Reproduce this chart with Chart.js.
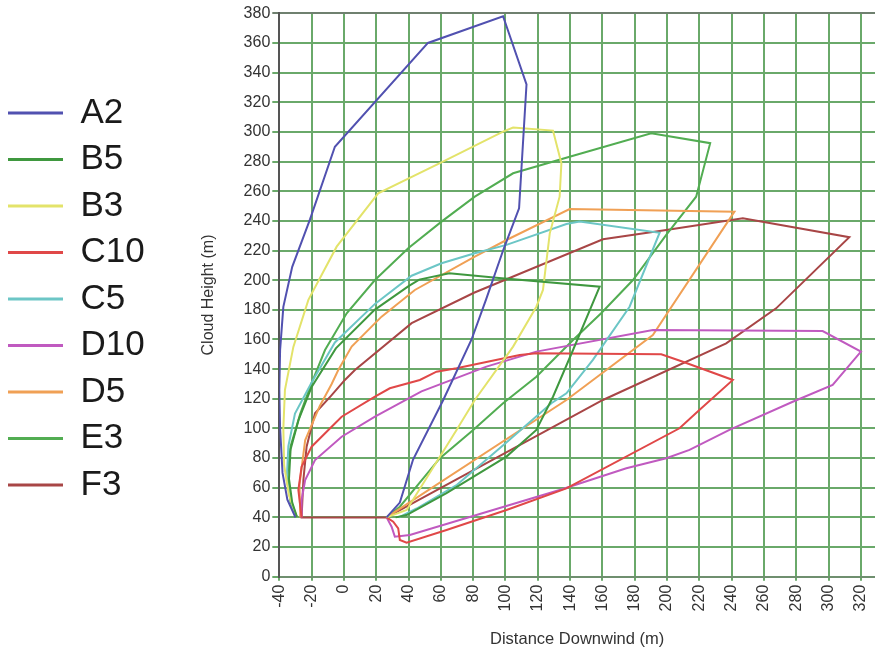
<!DOCTYPE html>
<html>
<head>
<meta charset="utf-8">
<script src="https://cdn.jsdelivr.net/npm/chart.js@4/dist/chart.umd.min.js"></script>
<style>
  html, body { margin: 0; padding: 0; background: #fff; }
  #wrap { width: 875px; height: 652px; }
</style>
</head>
<body>
<div id="wrap"><canvas id="cloud-chart" width="875" height="652"></canvas></div>
<script>
// cloud outline per stability class / wind speed (distance m, height m)
const seriesNames = ['A2', 'B5', 'B3', 'C10', 'C5', 'D10', 'D5', 'E3', 'F3'];
const seriesColors = ['#5151b0', '#3f983f', '#e3e36a', '#e04848', '#6cc6c6', '#c05ac0', '#f0a055', '#52ad52', '#a84646'];

const a2X = [-30, -35, -38, -39.5, -40, -39.5, -37.5, -32, -21, -5.6, 52, 98.5, 113, 108.4, 98.5, 88, 79, 61.4, 42.8, 34.6, 26.4];
const a2Y = [40, 52, 70, 100, 126, 153, 182, 209, 241, 290, 360, 378, 332, 248.5, 220, 187, 160, 119, 79, 50, 40];

const b5X = [-29, -32, -34, -33, -28, -20, -5, 19, 40, 46.6, 65.2, 96, 158.3, 141.8, 129.4, 119.1, 100.6, 63.5, 38.8, 32];
const b5Y = [40, 50, 66, 86, 106, 128, 154, 180, 196, 200.4, 204.7, 201.5, 195.6, 152.9, 121.4, 99, 81, 56.3, 41.6, 40];

const b3X = [-29, -34, -37, -37.5, -36.5, -31.3, -22, -4.5, 21.2, 59.4, 98.5, 104.7, 129.4, 134.6, 133.5, 127.4, 123.2, 119.1, 104.7, 81, 69.7, 38.8, 26.4];
const b3Y = [40, 55, 75, 100, 126, 155, 186.7, 222.6, 258.6, 278.9, 300.2, 302.9, 300.9, 278.9, 256.3, 231.6, 193.4, 182.1, 155.2, 119.2, 99, 45, 40];

const c10X = [-26.2, -28.2, -26.2, -20, -1.4, 19.2, 28.4, 47, 57.3, 69.7, 108.8, 119.1, 196.4, 209.8, 240.7, 220, 207.7, 137.7, 100.6, 63.5, 38.8, 34.6, 33.6, 30.5, 26.4];
const c10Y = [40, 58.5, 74.2, 87.7, 107.9, 121.4, 127.1, 132.7, 138.3, 140.6, 149.6, 150.7, 150, 145, 132.7, 112.5, 100.1, 59.6, 45, 31.5, 22.9, 24.8, 32.6, 37.1, 40];

const c5X = [-29, -31.3, -35.4, -34.4, -30.3, -20, -5.6, 19.2, 41.9, 60.4, 81, 100.6, 137.7, 145.9, 195.4, 176.8, 154.1, 137.7, 128.4, 100, 70, 45, 34];
const c5Y = [40, 45, 65, 88, 110, 131, 158, 184, 203, 211.4, 218.2, 223.8, 237.9, 239.5, 232, 182.1, 146.2, 123.7, 117, 90, 62, 46, 40];

const d10X = [-26.2, -26.2, -24, -17.9, -1.4, 19.2, 48, 88.2, 119.1, 191.2, 296.3, 320, 302.5, 277.8, 238.6, 213.9, 199.5, 174.8, 133.5, 40.8, 31.5, 29.5, 26.4];
const d10Y = [40, 51.7, 65.2, 78.7, 94.4, 107.9, 125, 141.7, 151.8, 166.4, 165.7, 151.8, 129.3, 118, 99, 85.5, 79.9, 73.1, 58.5, 28.1, 27, 33.7, 40];

const d5X = [-27, -27.5, -24, -15, -7.6, -3.5, 4.8, 23.3, 43.9, 81, 100.6, 139.7, 241.7, 191.2, 137.7, 26.4];
const d5Y = [40, 62, 92, 115, 130, 139.4, 155.2, 175.4, 193.4, 215.9, 227.1, 248, 246.2, 163, 119.2, 40];

const e3X = [-29, -33, -35, -33, -27, -20, -11.7, 1.7, 19.2, 39.8, 60.4, 81, 104.7, 139.7, 190.2, 226.7, 218, 199.5, 178.9, 159.2, 141.8, 119.1, 98.5, 80, 59.4, 34.6, 26.4];
const e3Y = [40, 50, 68, 88, 110, 130.5, 152.9, 177.7, 200.1, 221.5, 239.5, 256.3, 272.1, 283.3, 299.1, 292.4, 256.3, 230.5, 200.1, 177.7, 159.7, 134.9, 117, 99, 79.9, 47.2, 40];

const f3X = [26.4, -26.2, -25.1, -23.1, -17.9, -8, 0.6, 6.8, 41.9, 80.5, 160.3, 199.5, 246.9, 312.8, 267.5, 236.6, 160.3, 26.4];
const f3Y = [40, 40, 65.2, 87.7, 110.2, 122, 132.7, 139.4, 171, 191.5, 227.6, 233.9, 241.8, 229, 181, 157.4, 119.2, 40];

const seriesX = [a2X, b5X, b3X, c10X, c5X, d10X, d5X, e3X, f3X];
const seriesY = [a2Y, b5Y, b3Y, c10Y, c5Y, d10Y, d5Y, e3Y, f3Y];

const gridGreen = '#6aa96a';
const padLeft = -3.5;
const plotLeft = 279.3;

Chart.defaults.font.family = "'Liberation Sans', Arial, sans-serif";
Chart.defaults.color = '#333';

const datasets = seriesNames.map((name, i) => ({
  label: name,
  data: seriesX[i].map((x, j) => ({ x: x, y: seriesY[i][j] })),
  borderColor: seriesColors[i],
  backgroundColor: seriesColors[i],
  borderWidth: 2,
  showLine: true,
  fill: false,
  pointRadius: 0,
  tension: 0
}));

new Chart(document.getElementById('cloud-chart'), {
  type: 'scatter',
  data: { datasets: datasets },
  options: {
    responsive: false,
    animation: false,
    layout: { padding: { left: padLeft, top: 13.3, right: 0, bottom: 0 } },
    plugins: {
      tooltip: { enabled: false },
      legend: {
        position: 'left',
        fullSize: false,
        title: { display: true, text: '', font: { size: 8, lineHeight: 1 }, padding: 0 },
        labels: {
          usePointStyle: true,
          pointStyle: 'line',
          pointStyleWidth: 55,
          padding: 11.5,
          color: '#1a1a1a',
          font: { size: 35 },
          generateLabels: (chart) => Chart.defaults.plugins.legend.labels.generateLabels(chart)
            .map(item => Object.assign(item, { lineWidth: 3 }))
        }
      }
    },
    scales: {
      x: {
        type: 'linear',
        min: -40,
        max: 328.7,
        afterFit: (scale) => { scale.height = 75.3; scale.paddingRight = 0; },
        ticks: {
          stepSize: 20,
          includeBounds: false,
          autoSkip: false,
          minRotation: 90,
          maxRotation: 90,
          padding: 4,
          font: { size: 16 }
        },
        grid: { color: gridGreen, lineWidth: 2, tickLength: 4 },
        border: { color: '#6f8f6f', width: 2 },
        title: {
          display: true,
          text: 'Distance Downwind (m)',
          font: { size: 16.5 },
          padding: { top: 0, bottom: 3 }
        }
      },
      y: {
        type: 'linear',
        min: 0,
        max: 380,
        afterFit: (scale) => {
          const lg = scale.chart.legend;
          scale.width = plotLeft - padLeft - (lg ? lg.width : 158);
        },
        ticks: { stepSize: 20, padding: 2, font: { size: 16 } },
        grid: {
          color: (ctx) => (ctx.tick && ctx.tick.value === 380 ? '#6f806f' : gridGreen),
          lineWidth: 2,
          tickLength: 7
        },
        border: { color: '#555', width: 2 },
        title: {
          display: true,
          text: 'Cloud Height (m)',
          font: { size: 16 },
          padding: { top: 44, bottom: 0 }
        }
      }
    }
  }
});
</script>
</body>
</html>
